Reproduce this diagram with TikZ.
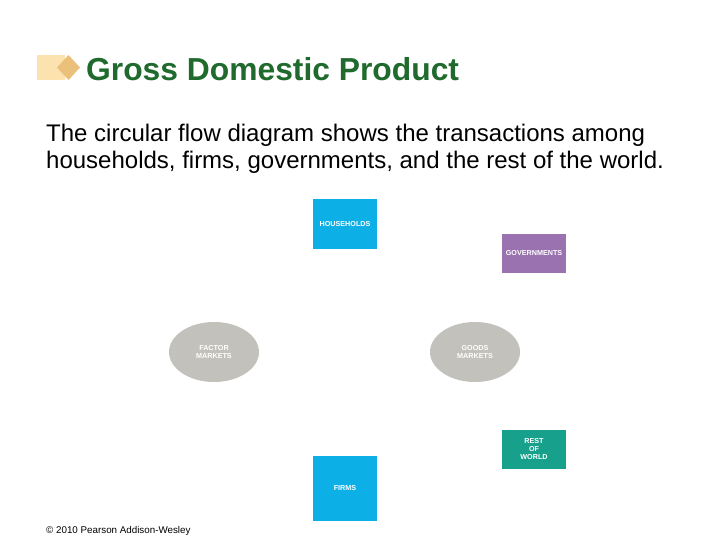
\documentclass[tikz,border=0pt]{standalone}
\usepackage{fontspec}
\setmainfont{Liberation Sans}
\usetikzlibrary{shapes.geometric}
\definecolor{gdpgreen}{HTML}{1F6A2C}
\definecolor{hhblue}{HTML}{0DB0E6}
\definecolor{govpurple}{HTML}{9A72AF}
\definecolor{rowteal}{HTML}{17A08B}
\definecolor{mktgray}{HTML}{C3C1BB}
\definecolor{iconlight}{HTML}{FBE2AE}
\definecolor{icondark}{HTML}{EBC07A}
\tikzset{
  sector/.style={draw=none,inner sep=0pt,text=white,font=\fontsize{7.2}{8}\selectfont\bfseries,align=center},
  market/.style={ellipse,fill=mktgray,minimum width=90pt,minimum height=60pt,inner sep=0pt,text=white,font=\fontsize{7.2}{8}\selectfont\bfseries,align=center}
}
\begin{document}
\begin{tikzpicture}[x=1pt,y=-1pt]
\useasboundingbox (0,0) rectangle (720,540);
\fill[white] (0,0) rectangle (720,540);
% title icon
\fill[iconlight] (37,55) rectangle (65,80);
\fill[icondark] (68.5,55) -- (80,67.5) -- (68.5,80) -- (57,67.5) -- cycle;
\node[anchor=base west,inner sep=0pt,text=gdpgreen,font=\fontsize{31.8}{36}\selectfont\bfseries] (title) at (86,81) {Gross Domestic Product};
% base of a two-line node is the last line
\node[anchor=base west,inner sep=0pt,align=left,font=\fontsize{24}{27.5}\selectfont] (intro) at (46,169)
  {The circular flow diagram shows the transactions among\\households, firms, governments, and the rest of the world.};
% sectors
\node[sector,fill=hhblue,minimum width=64pt,minimum height=50pt] (hh) at (345,224) {HOUSEHOLDS};
\node[sector,fill=govpurple,minimum width=64pt,minimum height=39pt] (gov) at (534,253.5) {GOVERNMENTS};
\node[market] (factor) at (214,352) {FACTOR\\MARKETS};
\node[market] (goods) at (475,352) {GOODS\\MARKETS};
\node[sector,fill=rowteal,minimum width=64pt,minimum height=39pt] (row) at (534,449.5) {REST\\OF\\WORLD};
\node[sector,fill=hhblue,minimum width=64pt,minimum height=65pt] (firms) at (345,488.5) {FIRMS};
\node[anchor=base west,inner sep=0pt,font=\fontsize{9.8}{11}\selectfont] (copy) at (46,533) {\textcopyright{} 2010 Pearson Addison-Wesley};
\end{tikzpicture}
\end{document}
